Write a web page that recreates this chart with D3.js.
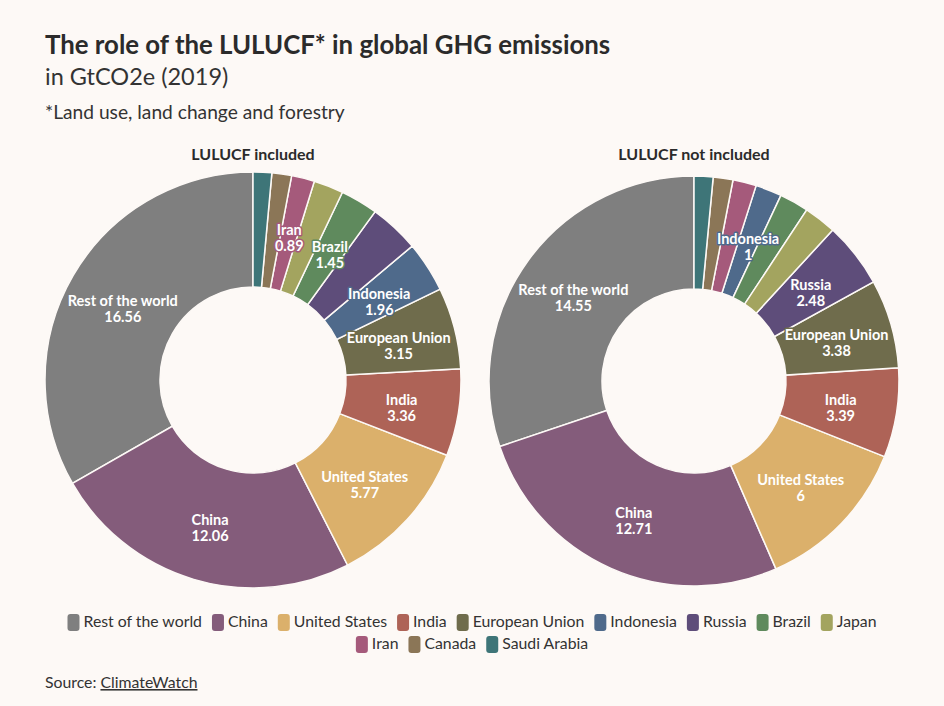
<!DOCTYPE html>
<html>
<head>
<meta charset="utf-8">
<script src="https://cdn.jsdelivr.net/npm/d3@7"></script>
<style>
    body { margin: 0; background: #fdf9f6; }
    svg { display: block; font-family: Lato, "Noto Sans", sans-serif; }
</style>
</head>
<body>
<div id="chart"></div>
<script>
const WIDTH = 944;
const HEIGHT = 706;
const BG = "#fdf9f6";

// Categories in legend order
const countries = ["Rest of the world", "China", "United States", "India", "European Union",
    "Indonesia", "Russia", "Brazil", "Japan", "Iran", "Canada", "Saudi Arabia"];
const colors = ["#7f7f7f", "#845c7b", "#dbb06b", "#ae6357", "#6f6c4c",
    "#4f6a8b", "#5e4d7a", "#5f8a5d", "#a3a45f", "#a55a7b", "#8b7657", "#3e7578"];

// GtCO2e 2019 (small slices)
const withLulucf = [16.56, 12.06, 5.77, 3.36, 3.15, 1.96, 1.93, 1.45, 1.15, 0.89, 0.76, 0.72];
const withoutLulucf = [14.55, 12.71, 6, 3.39, 3.38, 1, 2.48, 1.11, 1.23, 0.89, 0.75, 0.72];

// which slices carry a label
const labeledWith = ["Rest of the world", "China", "United States", "India", "European Union", "Indonesia", "Brazil", "Iran"];
const labeledWithout = ["Rest of the world", "China", "United States", "India", "European Union", "Russia", "Indonesia"];

const color = d3.scaleOrdinal().domain(countries).range(colors);

const svg = d3.select("#chart").append("svg")
    .attr("width", WIDTH)
    .attr("height", HEIGHT);

svg.append("rect").attr("width", WIDTH).attr("height", HEIGHT).attr("fill", BG);

// --- Header ---
svg.append("text")
    .attr("x", 45).attr("y", 54)
    .attr("fill", "#2b2b2b")
    .style("font-size", "25.8px").style("font-weight", 700)
    .text("The role of the LULUCF* in global GHG emissions");

svg.append("text")
    .attr("x", 45).attr("y", 85)
    .attr("fill", "#333")
    .style("font-size", "23.5px")
    .text("in GtCO2e (2019)");

svg.append("text")
    .attr("x", 45).attr("y", 119)
    .attr("fill", "#333")
    .style("font-size", "19.2px")
    .text("*Land use, land change and forestry");

// --- Donuts ---
function drawDonut(title, values, labeled, cx, cy, outer, inner) {
    const data = countries.map((c, i) => ({ name: c, value: values[i] }));

    const pie = d3.pie()
        .value(d => d.value)
        .sort((a, b) => b.value - a.value)
        .startAngle(0)
        .endAngle(-2 * Math.PI); // largest slice runs counter-clockwise from 12 o'clock

    const arc = d3.arc().innerRadius(inner).outerRadius(outer);
    const mid = (inner + outer) / 2;
    const labelArc = d3.arc().innerRadius(mid).outerRadius(mid);

    const g = svg.append("g").attr("transform", `translate(${cx},${cy})`);

    svg.append("text")
        .attr("x", cx).attr("y", 160)
        .attr("text-anchor", "middle")
        .attr("fill", "#2b2b2b")
        .style("font-size", "16px").style("font-weight", 700)
        .text(title);

    const arcs = pie(data);

    g.selectAll("path")
        .data(arcs)
        .enter()
        .append("path")
        .attr("d", arc)
        .attr("fill", d => color(d.data.name))
        .attr("stroke", BG)
        .attr("stroke-width", 1.5);

    const labels = g.selectAll("g.label")
        .data(arcs.filter(d => labeled.includes(d.data.name)))
        .enter()
        .append("g")
        .attr("class", "label")
        .attr("transform", d => {
            const [x, y] = labelArc.centroid(d);
            return `translate(${x},${y})`;
        });

    labels.append("text")
        .attr("text-anchor", "middle")
        .attr("fill", "#fff")
        .attr("stroke", d => color(d.data.name))
        .attr("stroke-width", 3)
        .attr("stroke-linejoin", "round")
        .attr("paint-order", "stroke")
        .style("font-size", "14.5px").style("font-weight", 700)
        .each(function(d) {
            const t = d3.select(this);
            t.append("tspan").attr("x", 0).attr("y", 1).text(d.data.name);
            t.append("tspan").attr("x", 0).attr("y", 17).text(d.data.value);
        });
}

drawDonut("LULUCF included", withLulucf, labeledWith, 253, 380, 208, 93);
drawDonut("LULUCF not included", withoutLulucf, labeledWithout, 694, 381, 205, 92);

// --- Legend (wrapped, rows centred) ---
const legend = svg.append("g");
const SW = 12, GAP = 4, ITEM_GAP = 10, MAX_W = 830;

const items = countries.map(c => {
    const it = legend.append("g");
    it.append("rect")
        .attr("width", SW).attr("height", 17)
        .attr("rx", 3)
        .attr("y", -13)
        .attr("fill", color(c));
    const t = it.append("text")
        .attr("x", SW + GAP)
        .attr("fill", "#333")
        .style("font-size", "15.8px")
        .text(c);
    return { g: it, w: SW + GAP + t.node().getComputedTextLength() };
});

let rows = [[]], rowW = [0];
items.forEach(it => {
    let r = rows.length - 1;
    let add = (rows[r].length ? ITEM_GAP : 0) + it.w;
    if (rowW[r] + add > MAX_W) {
        rows.push([]); rowW.push(0); r++;
        add = it.w;
    }
    rows[r].push(it);
    rowW[r] += add;
});

rows.forEach((row, ri) => {
    let x = WIDTH / 2 - rowW[ri] / 2;
    row.forEach(it => {
        it.g.attr("transform", `translate(${x},${627 + ri * 22})`);
        x += it.w + ITEM_GAP;
    });
});

// --- Source ---
const src = svg.append("text")
    .attr("x", 45).attr("y", 688)
    .attr("fill", "#333")
    .style("font-size", "15.8px");
src.append("tspan").text("Source: ");
src.append("tspan").style("text-decoration", "underline").text("ClimateWatch");
</script>
</body>
</html>
